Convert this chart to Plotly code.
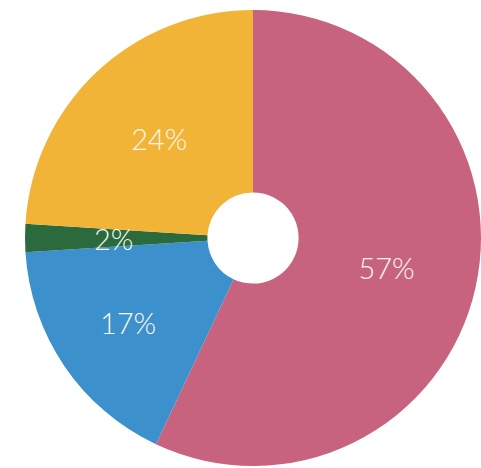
import math
import plotly.graph_objects as go

labels = ["A", "B", "C", "D"]
values = [57, 17, 2, 24]
text_labels = ["57%", "17%", "2%", "24%"]
colors = ["#c8637f", "#3c90cb", "#2a6a3c", "#f1b436"]

W, H = 481, 468
dom_x = [25 / W, 1]
dom_y = [2 / H, 1 - 10 / H]

# small slice labels are drawn as annotations at the slice's mid-angle
small = [v < 5 for v in values]
pie_text = ["" if s else t for s, t in zip(small, text_labels)]

fig = go.Figure(go.Pie(
    labels=labels,
    values=values,
    text=pie_text,
    textinfo="text",
    textposition="inside",
    insidetextorientation="horizontal",
    sort=False,
    direction="clockwise",
    rotation=0,
    hole=0.2,
    marker=dict(colors=colors, line=dict(width=0)),
    textfont=dict(family="Lato", size=29, color="#fbf6ee", weight=300),
    domain=dict(x=dom_x, y=dom_y),
    showlegend=False,
    hoverinfo="skip",
))

# pixel geometry of the pie (derived from domain)
wpx = (dom_x[1] - dom_x[0]) * W
hpx = (dom_y[1] - dom_y[0]) * H
r = min(wpx, hpx) / 2
cx = (dom_x[0] + dom_x[1]) / 2 * W
cy = (dom_y[0] + dom_y[1]) / 2 * H
total = sum(values)
cum = 0
for v, t, s in zip(values, text_labels, small):
    mid = (cum + v / 2) / total * 2 * math.pi
    cum += v
    if not s:
        continue
    rr = 0.61 * r
    px = cx + rr * math.sin(mid)
    py = cy + rr * math.cos(mid)
    fig.add_annotation(
        x=px / W, y=py / H, xref="paper", yref="paper",
        xanchor="center", yanchor="middle",
        text=t, showarrow=False,
        font=dict(family="Lato", size=29, color="#fbf6ee", weight=300),
    )

fig.update_layout(
    width=W, height=H,
    margin=dict(l=0, r=0, t=0, b=0),
    paper_bgcolor="white",
    uniformtext=dict(minsize=29, mode="show"),
)
fig.write_html("out.html")
